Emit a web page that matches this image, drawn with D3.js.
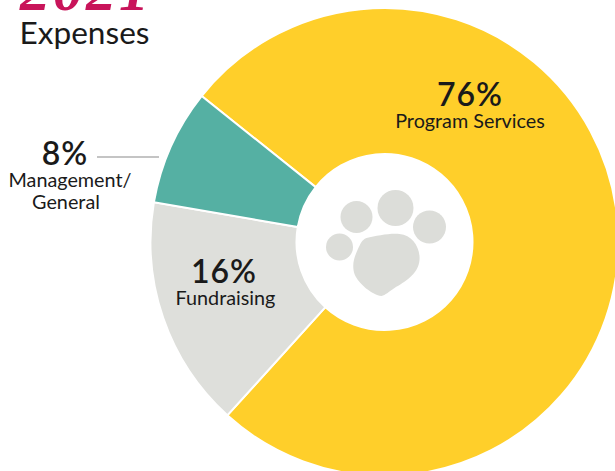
<!DOCTYPE html>
<html>
<head>
<meta charset="utf-8">
<script src="https://cdn.jsdelivr.net/npm/d3@7"></script>
<style>
    html, body { margin: 0; padding: 0; background: #fff; overflow: hidden; }
    text { font-family: Lato, sans-serif; fill: #1a1a1a; }
</style>
</head>
<body>
<svg id="chart" width="615" height="471"></svg>
<script>
// values
const categories = ['Program Services', 'Fundraising', 'Management/General'];
const shares = [76, 16, 8];
const colors = ['#FFCF2A', '#DEDFDB', '#55B0A3'];

const svg = d3.select('#chart');
const cx = 384.5, cy = 242;
const outerR = 234, innerR = 88;

// yellow slice starts up at the top left, going clockwise
const startAngle = 308.6 * Math.PI / 180;

const pie = d3.pie()
    .sort(null)
    .startAngle(startAngle)
    .endAngle(startAngle + 2 * Math.PI);

const arc = d3.arc().innerRadius(innerR).outerRadius(outerR);

const chart = svg.append('g').attr('transform', `translate(${cx},${cy})`);

chart.selectAll('path')
    .data(pie(shares))
    .enter()
    .append('path')
    .attr('d', arc)
    .attr('fill', (d, i) => colors[i])
    .attr('stroke', '#fff')
    .attr('stroke-width', 2);

// paw in the middle
const pawToes = [[-28, -25, 16], [11, -34, 18], [45, -15, 16.5], [-45, 5, 13.5]];
const paw = chart.append('g').attr('fill', '#DCDDD9');

paw.selectAll('circle')
    .data(pawToes)
    .enter()
    .append('circle')
    .attr('cx', d => d[0])
    .attr('cy', d => d[1])
    .attr('r', d => d[2]);

paw.append('path')
    .attr('d', 'M-18,-4 C-8,-6 5,-9 15,-8 C28,-7 36,6 35,18 C34,32 20,40 10,46 C4,50 1,53 -3,54 C-12,53 -26,42 -30,32 C-33,22 -30,15 -27,8 C-24,2 -23,-2 -18,-4 Z');

// title, cut by the top edge like the original
svg.append('text')
    .attr('x', 20)
    .attr('y', 10)
    .attr('font-size', 60)
    .attr('font-weight', 700)
    .attr('font-style', 'italic')
    .attr('letter-spacing', 3)
    .style('font-family', '"Liberation Serif", serif')
    .style('fill', '#C8145A')
    .text('2021');

svg.append('text')
    .attr('x', 19.5)
    .attr('y', 44)
    .attr('font-size', 31.6)
    .text('Expenses');

function label(x, pctY, pct, lines) {
    svg.append('text')
        .attr('x', x)
        .attr('y', pctY)
        .attr('text-anchor', 'middle')
        .attr('font-size', 32)
        .attr('font-weight', 600)
        .attr('letter-spacing', 1)
        .text(pct + '%');
    lines.forEach((line, i) => {
        svg.append('text')
            .attr('x', line.x)
            .attr('y', pctY + 22 + i * 22)
            .attr('text-anchor', 'middle')
            .attr('font-size', 19.8)
            .text(line.text);
    });
}

label(470, 106, shares[0], [{ text: 'Program Services', x: 470 }]);
label(224, 283, shares[1], [{ text: 'Fundraising', x: 225.5 }]);
label(65, 165, shares[2], [{ text: 'Management/', x: 70 }, { text: 'General', x: 66 }]);

// leader line for the small slice
svg.append('line')
    .attr('x1', 97)
    .attr('x2', 159)
    .attr('y1', 157)
    .attr('y2', 157)
    .attr('stroke', '#8a8a8a')
    .attr('stroke-width', 1.2);
</script>
</body>
</html>
